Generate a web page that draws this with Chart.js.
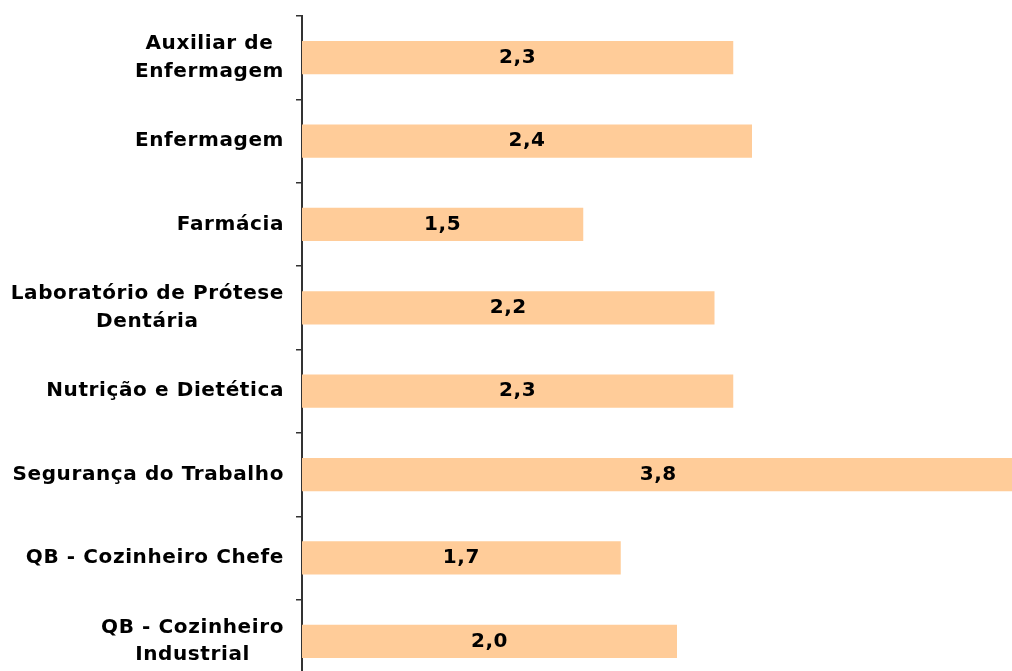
<!DOCTYPE html>
<html lang="pt">
<head>
<meta charset="utf-8">
<title>Cursos técnicos</title>
<script src="https://cdn.jsdelivr.net/npm/chart.js@4.4.1/dist/chart.umd.min.js"></script>
<style>
  html, body { margin:0; padding:0; background:#fff; overflow:hidden; }
  .wrap { position:relative; width:1052px; height:683px; }
</style>
</head>
<body>
<div class="wrap"><canvas id="cursoChart"></canvas></div>
<script>
/* ════════════════════════════
   DATA
════════════════════════════ */
const CURSOS = [
  ['Auxiliar de', 'Enfermagem'],
  'Enfermagem',
  'Farmácia',
  ['Laboratório de Prótese', 'Dentária'],
  'Nutrição e Dietética',
  'Segurança do Trabalho',
  'QB - Cozinheiro Chefe',
  ['QB - Cozinheiro', 'Industrial'],
];
const VALORES = [2.3, 2.4, 1.5, 2.2, 2.3, 3.8, 1.7, 2.0];

const FONT = '"DejaVu Sans", Verdana, sans-serif';

/* ════════════════════════════
   PLUGINS
════════════════════════════ */
// category names, right-aligned block with centred lines
const catLabels = {
  id: 'catLabels',
  afterDraw(chart) {
    const { ctx } = chart;
    const y = chart.scales.y;
    ctx.save();
    ctx.font = 'bold 20px ' + FONT;
    ctx.letterSpacing = '0.6px';
    ctx.fillStyle = '#000';
    ctx.textAlign = 'center';
    ctx.textBaseline = 'middle';
    const lh = 27.5, right = 284;
    CURSOS.forEach((lab, i) => {
      const lines = Array.isArray(lab) ? lab : [lab];
      const w = Math.max(...lines.map(l => ctx.measureText(l).width));
      const cx = right - w / 2;
      const cy = y.getPixelForValue(i);
      lines.forEach((l, j) => {
        ctx.fillText(l, cx, cy + (j - (lines.length - 1) / 2) * lh);
      });
    });
    ctx.restore();
  }
};

// value inside each bar, decimal comma
const barValues = {
  id: 'barValues',
  afterDatasetsDraw(chart) {
    const { ctx } = chart;
    ctx.save();
    ctx.font = 'bold 20px ' + FONT;
    ctx.letterSpacing = '0.6px';
    ctx.fillStyle = '#000';
    ctx.textAlign = 'center';
    ctx.textBaseline = 'middle';
    chart.getDatasetMeta(0).data.forEach((bar, i) => {
      const txt = VALORES[i].toFixed(1).replace('.', ',');
      ctx.fillText(txt, (bar.x + bar.base) / 2, bar.y);
    });
    ctx.restore();
  }
};

/* ════════════════════════════
   CHART
════════════════════════════ */
new Chart(document.getElementById('cursoChart').getContext('2d'), {
  type: 'bar',
  data: {
    labels: CURSOS,
    datasets: [{
      data: VALORES,
      backgroundColor: '#FFCC99',
      barPercentage: 0.4,
      categoryPercentage: 1,
    }]
  },
  options: {
    indexAxis: 'y',
    responsive: true, maintainAspectRatio: false,
    animation: false,
    layout: { padding: { top: 16, right: 0, bottom: 0, left: 0 } },
    plugins: { legend: { display: false }, tooltip: { enabled: false } },
    scales: {
      x: { display: false, min: 0, max: 4 },
      y: {
        offset: true,
        ticks: { display: false },
        grid: { drawOnChartArea: false, drawTicks: true, tickLength: 6, color: '#333', offset: true, lineWidth: 1.5 },
        border: { display: true, color: '#333', width: 2 },
        afterFit(scale) { scale.width = 302; }
      }
    }
  },
  plugins: [catLabels, barValues]
});
</script>
</body>
</html>
